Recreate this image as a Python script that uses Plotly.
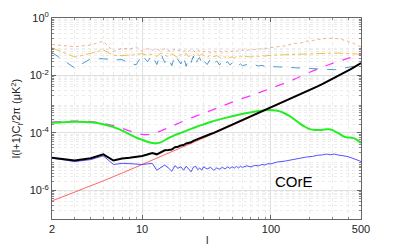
import plotly.graph_objects as go

# ---------------- data ----------------
ell_fine = [2, 3, 4, 5, 6, 7, 8, 9, 10, 11, 12, 13, 14, 15, 16, 17, 18, 19, 20,
            21, 22, 23, 24, 25, 26, 27, 28, 29, 30,
            32, 34, 36, 38, 40, 42, 44, 46, 48, 50, 52, 54, 56, 58, 60,
            65, 70, 75, 80, 85, 90, 95, 100,
            110, 130, 150, 170, 190, 210, 230, 250, 270, 290, 310, 330, 350,
            370, 390, 410, 430, 450, 470, 490, 500]

residual_blue = [1.32e-5, 1.0e-5, 1.17e-5, 1.58e-5, 7.9e-6, 8.7e-6, 8.5e-6, 8.1e-6, 7.9e-6,
                 8.3e-6, 8.7e-6, 5.0e-6, 6.3e-6, 7.6e-6, 6.0e-6, 4.6e-6, 7.2e-6, 5.8e-6, 6.6e-6,
                 5.0e-6, 6.9e-6, 5.5e-6, 4.4e-6, 6.3e-6, 6.9e-6, 5.2e-6, 6.0e-6, 5.0e-6, 6.6e-6,
                 5.5e-6, 6.3e-6, 5.0e-6, 6.0e-6, 5.4e-6, 6.3e-6, 5.5e-6, 6.5e-6, 5.8e-6, 6.6e-6,
                 5.9e-6, 6.8e-6, 6.0e-6, 6.9e-6, 6.3e-6,
                 7.1e-6, 6.5e-6, 7.4e-6, 7.1e-6, 7.9e-6, 7.6e-6, 8.5e-6, 8.3e-6,
                 9.5e-6, 1.05e-5, 1.2e-5, 1.29e-5, 1.45e-5, 1.51e-5, 1.66e-5, 1.70e-5, 1.82e-5,
                 1.74e-5, 1.82e-5, 1.70e-5, 1.66e-5, 1.55e-5, 1.51e-5, 1.41e-5, 1.32e-5,
                 1.23e-5, 1.12e-5, 1.05e-5, 1.0e-5]

total_black = [1.36e-5, 1.09e-5, 1.31e-5, 1.79e-5, 1.09e-5, 1.27e-5, 1.36e-5, 1.45e-5, 1.57e-5,
               1.77e-5, 1.98e-5, 1.79e-5, 2.12e-5, 2.46e-5, 2.53e-5, 2.63e-5, 3.15e-5, 3.28e-5,
               3.64e-5, 3.78e-5, 4.28e-5, 4.47e-5, 4.70e-5, 5.25e-5, 5.67e-5, 5.89e-5, 6.37e-5,
               6.68e-5, 7.26e-5,
               8.05e-5, 9.08e-5, 9.96e-5, 1.11e-4, 1.22e-4, 1.35e-4, 1.46e-4, 1.60e-4, 1.73e-4,
               1.88e-4, 2.02e-4, 2.18e-4, 2.33e-4, 2.50e-4, 2.66e-4,
               3.12e-4, 3.62e-4, 4.15e-4, 4.71e-4, 5.32e-4, 5.96e-4, 6.66e-4, 7.36e-4,
               8.94e-4, 1.25e-3, 1.68e-3, 2.18e-3, 2.75e-3, 3.40e-3, 4.14e-3, 4.96e-3, 5.88e-3,
               6.91e-3, 8.05e-3, 9.31e-3, 1.07e-2, 1.225e-2, 1.395e-2, 1.58e-2, 1.79e-2,
               2.02e-2, 2.27e-2, 2.54e-2, 2.69e-2]

fg_dotted = [0.120, 0.100, 0.115, 0.155, 0.0676, 0.0891, 0.0813, 0.100, 0.0692, 0.0851,
             0.0759, 0.0832, 0.0708, 0.0871, 0.0741, 0.0661, 0.0832, 0.0724, 0.0794, 0.0676,
             0.0759, 0.0692, 0.0813, 0.0708, 0.0646, 0.0759, 0.0692, 0.0741, 0.0661,
             0.0724, 0.0631, 0.0708, 0.0646, 0.0692, 0.0631, 0.0708, 0.0661, 0.0724, 0.0676,
             0.0741, 0.0692, 0.0759, 0.0708, 0.0776,
             0.0741, 0.0813, 0.0794, 0.0851, 0.0832, 0.0891, 0.0871, 0.0933,
             0.100, 0.108, 0.130, 0.134, 0.156, 0.162, 0.182, 0.183, 0.199, 0.196, 0.203,
             0.191, 0.185, 0.166, 0.161, 0.142, 0.135, 0.120, 0.114, 0.103, 0.100]

fg_dashdot = [0.0912, 0.0437, 0.0589, 0.0776, 0.0501, 0.0490, 0.0513, 0.0525, 0.0575, 0.0501,
              0.0550, 0.0457, 0.0603, 0.0501, 0.0437, 0.0562, 0.0490, 0.0417, 0.0537, 0.0468,
              0.0575, 0.0447, 0.0513, 0.0550, 0.0457, 0.0525, 0.0479, 0.0562, 0.0490,
              0.0437, 0.0501, 0.0447, 0.0490, 0.0417, 0.0468, 0.0427, 0.0479, 0.0417, 0.0447,
              0.0407, 0.0457, 0.0427, 0.0468, 0.0437,
              0.0457, 0.0437, 0.0479, 0.0457, 0.0490, 0.0468, 0.0501, 0.0490,
              0.0513, 0.0525, 0.0537, 0.0550, 0.0562, 0.0575, 0.0589, 0.0603, 0.0603, 0.0617,
              0.0603, 0.0603, 0.0589, 0.0589, 0.0575, 0.0575, 0.0562, 0.0562, 0.0550, 0.0550,
              0.0550]

fg_dashed = [0.0631, 0.0182, 0.0380, 0.0380, 0.0347, 0.0355, 0.0263, 0.0234, 0.0513, 0.0302,
             0.0501, 0.0240, 0.0562, 0.0282, 0.0398, 0.0219, 0.0501, 0.0331, 0.0251, 0.0447,
             0.0209, 0.0380, 0.0282, 0.0468, 0.0240, 0.0355, 0.0417, 0.0251, 0.0331,
             0.0240, 0.0380, 0.0263, 0.0316, 0.0229, 0.0331, 0.0251, 0.0302, 0.0234, 0.0269,
             0.0229, 0.0263, 0.0224, 0.0251, 0.0219,
             0.0240, 0.0219, 0.0234, 0.0214, 0.0224, 0.0209, 0.0219, 0.0204,
             0.0200, 0.0191, 0.0186, 0.0178, 0.0174, 0.0170, 0.0166, 0.0162, 0.0158, 0.0158,
             0.0158, 0.0162, 0.0170, 0.0174, 0.0182, 0.0191, 0.0204, 0.0214, 0.0229, 0.0245,
             0.0257]

ell_noise = [2, 3, 4, 5, 7, 10, 15, 20, 30, 50, 70, 100, 150, 200, 300, 400, 500]
noise_red = [4.26e-7, 8.5e-7, 1.42e-6, 2.13e-6, 3.98e-6, 7.8e-6, 1.70e-5, 2.98e-5, 6.60e-5,
             1.81e-4, 3.55e-4, 7.28e-4, 1.67e-3, 3.05e-3, 7.45e-3, 1.484e-2, 2.69e-2]

ell_tensor = [2, 3, 4, 5, 6, 7, 8, 9, 10, 11, 12, 13, 14, 16, 18, 20, 24, 28, 34, 40, 50,
              65, 80, 95, 110, 125, 140, 155, 168, 185, 200, 220, 240, 260, 280, 300,
              330, 360, 380, 400, 430, 460, 500]
tensor_green = [2.24e-4, 2.45e-4, 2.34e-4, 2.0e-4, 1.58e-4, 1.20e-4, 8.9e-5, 6.9e-5, 5.75e-5,
                4.9e-5, 4.47e-5, 4.37e-5, 4.68e-5, 6.5e-5, 8.3e-5, 1.0e-4, 1.38e-4, 1.78e-4,
                2.4e-4, 2.95e-4, 3.8e-4, 4.9e-4, 5.75e-4, 6.3e-4, 6.0e-4, 5.0e-4, 3.8e-4,
                2.75e-4, 2.1e-4, 1.6e-4, 1.35e-4, 1.26e-4, 1.26e-4, 1.32e-4, 1.33e-4, 1.25e-4,
                1.0e-4, 7.9e-5, 7.1e-5, 6.9e-5, 6.7e-5, 5.9e-5, 4.4e-5]

ell_bb = [2, 3, 4, 5, 6, 7, 8, 9, 10, 11, 12, 14, 17, 20, 25, 30, 40, 50, 70, 100, 150,
          200, 300, 400, 500]
total_bb_magenta = [2.34e-4, 2.57e-4, 2.45e-4, 2.14e-4, 1.78e-4, 1.45e-4, 1.17e-4, 9.8e-5,
                    8.9e-5, 8.7e-5, 9.3e-5, 1.17e-4, 1.70e-4, 2.34e-4, 3.55e-4, 4.8e-4,
                    7.9e-4, 1.17e-3, 2.0e-3, 3.55e-3, 7.2e-3, 1.29e-2, 2.63e-2, 3.98e-2, 5.5e-2]

x_tickvals = [2, 10, 100, 500]
x_ticktext = ["2", "10", "100", "500"]
y_tickvals = [1, 1e-2, 1e-4, 1e-6]
y_ticktext = ["10<sup>0</sup>", "10<sup>-2</sup>", "10<sup>-4</sup>", "10<sup>-6</sup>"]

# ---------------- figure ----------------
fig = go.Figure()

fig.add_trace(go.Scatter(x=ell_fine, y=fg_dotted, mode="lines",
                         line=dict(color="rgba(230,120,80,0.6)", width=1, dash="dot")))
fig.add_trace(go.Scatter(x=ell_fine, y=fg_dashdot, mode="lines",
                         line=dict(color="rgba(237,177,32,0.8)", width=1, dash="dashdot")))
fig.add_trace(go.Scatter(x=ell_fine, y=fg_dashed, mode="lines",
                         line=dict(color="rgba(0,114,189,0.7)", width=1, dash="dash")))
fig.add_trace(go.Scatter(x=ell_bb, y=total_bb_magenta, mode="lines", line_shape="spline",
                         line=dict(color="#FF33FF", width=1.3, dash="dash", smoothing=0.8)))
fig.add_trace(go.Scatter(x=ell_tensor, y=tensor_green, mode="lines", line_shape="spline",
                         line=dict(color="#22EE22", width=2, smoothing=0.6)))
fig.add_trace(go.Scatter(x=ell_noise, y=noise_red, mode="lines",
                         line=dict(color="#FF5555", width=0.9)))
fig.add_trace(go.Scatter(x=ell_fine, y=residual_blue, mode="lines",
                         line=dict(color="#4040FF", width=0.9)))
fig.add_trace(go.Scatter(x=ell_fine, y=total_black, mode="lines",
                         line=dict(color="black", width=2)))

minor_x = [3, 4, 5, 6, 7, 8, 9, 20, 30, 40, 50, 60, 70, 80, 90, 200, 300, 400]
minor_y = []
for e in range(-7, 0):
    for d in range(2, 10):
        minor_y.append(d * 10.0 ** e)

axis_common = dict(
    showline=True, linecolor="#666666", linewidth=1, mirror="allticks",
    ticks="inside", ticklen=4, tickcolor="#666666",
    showgrid=True, gridcolor="#E0E0E0", gridwidth=1,
    zeroline=False, automargin=False,
    tickfont=dict(family="Liberation Sans, Arial, sans-serif", size=11, color="#222222"),
)

fig.update_xaxes(type="log", range=[0.30103, 2.69897],
                 tickmode="array", tickvals=x_tickvals, ticktext=x_ticktext,
                 minor=dict(tickmode="array", tickvals=minor_x, showgrid=True,
                            gridcolor="#EAEAEA", griddash="dot", ticks="inside",
                            ticklen=2, tickcolor="#888888"),
                 **axis_common)
fig.update_yaxes(type="log", range=[-7, 0],
                 tickmode="array", tickvals=y_tickvals, ticktext=y_ticktext,
                 title=dict(text="l(l+1)C<sub>l</sub>/2π (μK<sup>2</sup>)",
                            font=dict(size=11, color="#222222"), standoff=6),
                 minor=dict(tickmode="array", tickvals=minor_y, showgrid=True,
                            gridcolor="#EDEDED", griddash="dot", ticks="inside",
                            ticklen=2, tickcolor="#888888"),
                 **axis_common)

# x-axis title placed just below the tick labels
fig.add_annotation(text="l", xref="paper", yref="paper", x=0.5, y=-0.105,
                   yanchor="middle", showarrow=False,
                   font=dict(size=11, color="#222222",
                             family="Liberation Sans, Arial, sans-serif"))

fig.add_annotation(text="COrE", xref="paper", yref="paper", x=0.851, y=0.134,
                   showarrow=False, font=dict(size=15, color="black",
                                              family="Liberation Sans, Arial, sans-serif"))

fig.update_layout(
    width=399, height=249,
    margin=dict(l=52, r=38, t=18, b=30),
    paper_bgcolor="white", plot_bgcolor="white",
    showlegend=False,
    font=dict(family="Liberation Sans, Arial, sans-serif", size=11, color="#222222"),
)

fig.write_html("out.html",
               config={"displayModeBar": False},
               post_script="document.body.style.margin='0px';document.body.style.overflow='hidden';")
